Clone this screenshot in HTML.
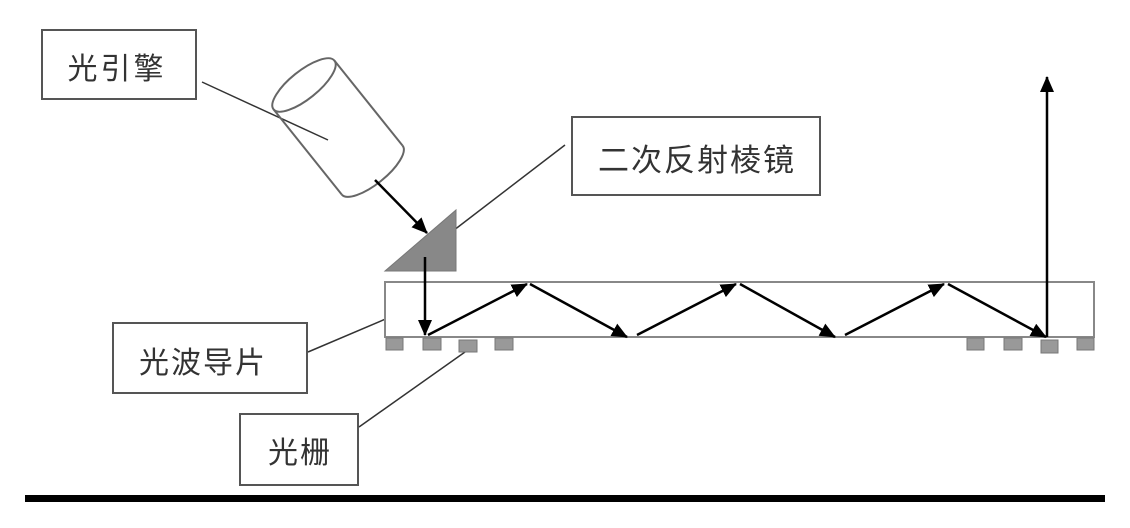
<!DOCTYPE html>
<html><head><meta charset="utf-8"><style>
html,body{margin:0;padding:0;background:#fff;}
svg{display:block;}
text{font-family:"Liberation Sans","Noto Sans CJK SC",sans-serif;fill:#333;}
</style></head><body>
<svg width="1130" height="528" viewBox="0 0 1130 528" xmlns="http://www.w3.org/2000/svg">
<defs>
<marker id="ah" markerWidth="16" markerHeight="14" refX="15" refY="7" orient="auto" markerUnits="userSpaceOnUse">
<path d="M0,0 L16,7 L0,14 Z" fill="#000"/>
</marker>
</defs>
<!-- labels -->
<rect x="42" y="30" width="154" height="69" fill="#fff" stroke="#555" stroke-width="2"/>
<text x="117" y="79" font-size="30" text-anchor="middle" letter-spacing="3">光引擎</text>
<rect x="572" y="117" width="248" height="78" fill="#fff" stroke="#555" stroke-width="2"/>
<text x="697" y="171" font-size="31" text-anchor="middle" letter-spacing="2">二次反射棱镜</text>
<rect x="113" y="323" width="194" height="70" fill="#fff" stroke="#555" stroke-width="2"/>
<text x="203" y="373" font-size="30" text-anchor="middle" letter-spacing="2">光波导片</text>
<rect x="240" y="414" width="118" height="71" fill="#fff" stroke="#555" stroke-width="2"/>
<text x="300" y="463" font-size="30" text-anchor="middle" letter-spacing="2">光栅</text>
<!-- leader lines -->
<line x1="202" y1="82" x2="328" y2="140" stroke="#333" stroke-width="1.5"/>
<line x1="445" y1="237" x2="565" y2="145" stroke="#333" stroke-width="1.5"/>
<line x1="308" y1="352" x2="402" y2="312" stroke="#333" stroke-width="1.5"/>
<line x1="359" y1="427" x2="465" y2="352" stroke="#333" stroke-width="1.5"/>
<!-- cylinder -->
<g transform="translate(304,85) rotate(-38.7)" fill="none" stroke="#666" stroke-width="2">
<ellipse cx="0" cy="0" rx="39" ry="14"/>
<line x1="-39" y1="0" x2="-39" y2="109"/>
<line x1="39" y1="0" x2="39" y2="109"/>
<path d="M-39,109 A39,14 0 0 0 39,109"/>
</g>
<!-- engine arrow -->
<line x1="375" y1="180" x2="427" y2="233" stroke="#000" stroke-width="2.5" marker-end="url(#ah)"/>
<!-- prism -->
<polygon points="385,271 456,271 456,210" fill="#888" stroke="#777" stroke-width="1"/>
<!-- waveguide -->
<rect x="385" y="282" width="709" height="55" fill="#fff" stroke="#888" stroke-width="2"/>
<!-- gratings -->
<g fill="#999" stroke="#777" stroke-width="1">
<rect x="386" y="338" width="17" height="12"/>
<rect x="423" y="338" width="18" height="12"/>
<rect x="459" y="340" width="18" height="12"/>
<rect x="495" y="338" width="18" height="12"/>
<rect x="967" y="338" width="17" height="12"/>
<rect x="1004" y="338" width="18" height="12"/>
<rect x="1041" y="340" width="17" height="13"/>
<rect x="1077" y="338" width="17" height="12"/>
</g>
<!-- light path -->
<g stroke="#000" stroke-width="2.5" fill="none">
<line x1="425" y1="257" x2="425" y2="335" marker-end="url(#ah)"/>
<line x1="428" y1="335" x2="527" y2="284" marker-end="url(#ah)"/>
<line x1="530" y1="284" x2="627" y2="337" marker-end="url(#ah)"/>
<line x1="637" y1="335" x2="736" y2="284" marker-end="url(#ah)"/>
<line x1="740" y1="284" x2="835" y2="337" marker-end="url(#ah)"/>
<line x1="845" y1="335" x2="944" y2="284" marker-end="url(#ah)"/>
<line x1="948" y1="284" x2="1046" y2="337" marker-end="url(#ah)"/>
<line x1="1047" y1="337" x2="1047" y2="77" marker-end="url(#ah)"/>
</g>
<!-- bottom bar -->
<rect x="25" y="495" width="1080" height="7" fill="#000"/>
</svg>
</body></html>
